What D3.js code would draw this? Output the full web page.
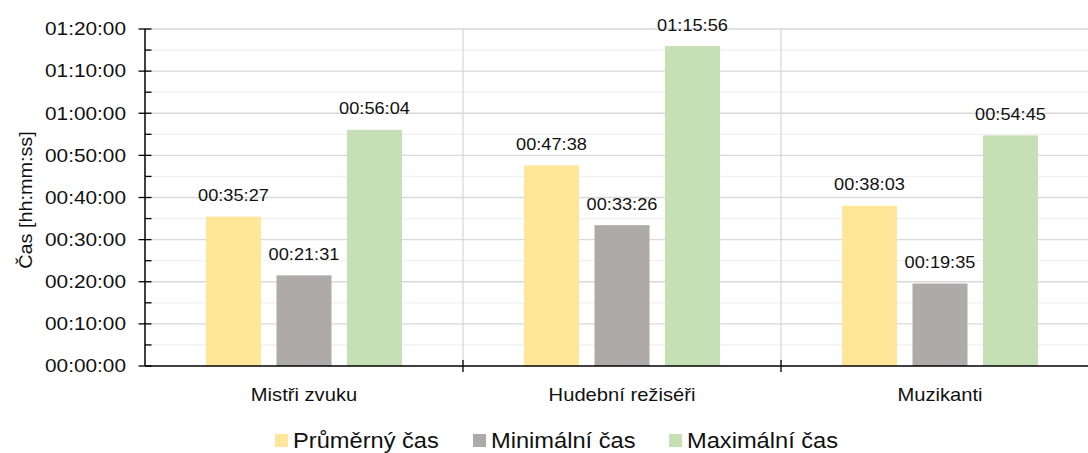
<!DOCTYPE html>
<html>
<head>
<meta charset="utf-8">
<script src="https://cdn.jsdelivr.net/npm/d3@7"></script>
<style>
  html, body { margin: 0; padding: 0; background: #fff; }
  svg { display: block; font-family: "Liberation Sans", Arial, sans-serif; }
</style>
</head>
<body>
<svg id="chart" width="1088" height="453"></svg>
<script>
// Categories and series (times as hh:mm:ss strings, converted to seconds)
const categories = ["Mistři zvuku", "Hudební režiséři", "Muzikanti"];
const seriesNames = ["Průměrný čas", "Minimální čas", "Maximální čas"];
const seriesColors = ["#FFE699", "#AEAAAA", "#C5E0B4"];
const averageTimes = ["00:35:27", "00:47:38", "00:38:03"];
const minimumTimes = ["00:21:31", "00:33:26", "00:19:35"];
const maximumTimes = ["00:56:04", "01:15:56", "00:54:45"];
const yTickLabels = ["00:00:00", "00:10:00", "00:20:00", "00:30:00", "00:40:00",
                     "00:50:00", "01:00:00", "01:10:00", "01:20:00"];

const toSec = s => { const [h, m, x] = s.split(":").map(Number); return h * 3600 + m * 60 + x; };
const seriesValues = [averageTimes, minimumTimes, maximumTimes];

const svg = d3.select("#chart");
const plotLeft = 145, plotRight = 1099, plotTop = 29, plotBottom = 366;

const y = d3.scaleLinear().domain([0, toSec("01:20:00")]).range([plotBottom, plotTop]);
const x0 = d3.scaleBand().domain(categories).range([plotLeft, plotRight]).padding(0);
const x1 = d3.scaleBand().domain(d3.range(seriesNames.length))
  .range([0, x0.bandwidth()]).paddingInner(0.22).paddingOuter(0.865);

// horizontally widened text helper
function label(g, x, yPos, txt, size, sx, anchor) {
  return g.append("text")
    .attr("transform", `translate(${x},${yPos}) scale(${sx},1)`)
    .attr("text-anchor", anchor)
    .attr("font-size", size)
    .attr("fill", "#111")
    .text(txt);
}

// gridlines: minor every 5 min, major every 10 min
const minorTicks = d3.range(0, toSec("01:20:00") + 1, 300);
svg.append("g").selectAll("line").data(minorTicks.filter(t => t % 600 !== 0)).join("line")
  .attr("x1", plotLeft).attr("x2", 1088).attr("y1", d => y(d)).attr("y2", d => y(d))
  .attr("stroke", "#F0F0F0").attr("stroke-width", 1.3);
svg.append("g").selectAll("line").data(minorTicks.filter(t => t % 600 === 0 && t > 0)).join("line")
  .attr("x1", plotLeft).attr("x2", 1088).attr("y1", d => y(d)).attr("y2", d => y(d))
  .attr("stroke", "#D9D9D9").attr("stroke-width", 1.3);

// vertical category separators
svg.append("g").selectAll("line").data(categories.slice(1)).join("line")
  .attr("x1", d => x0(d)).attr("x2", d => x0(d)).attr("y1", plotTop).attr("y2", plotBottom)
  .attr("stroke", "#D9D9D9").attr("stroke-width", 1.3);

// bars with value labels
const groups = svg.append("g").selectAll("g").data(categories).join("g")
  .attr("transform", d => `translate(${x0(d)},0)`);
groups.each(function (cat, ci) {
  const g = d3.select(this);
  seriesValues.forEach((vals, si) => {
    const v = toSec(vals[ci]);
    g.append("rect")
      .attr("x", x1(si)).attr("width", x1.bandwidth())
      .attr("y", y(v)).attr("height", y(0) - y(v))
      .attr("fill", seriesColors[si]);
    label(g, x1(si) + x1.bandwidth() / 2, y(v) - 15.5, vals[ci], 17, 1.07, "middle");
  });
});

// y axis
const ya = svg.append("g");
ya.append("line").attr("x1", plotLeft).attr("x2", plotLeft).attr("y1", plotTop).attr("y2", plotBottom)
  .attr("stroke", "#000").attr("stroke-width", 1.5);
ya.selectAll("line.major").data(minorTicks.filter(t => t % 600 === 0)).join("line")
  .attr("class", "major").attr("x1", plotLeft - 6.5).attr("x2", plotLeft + 6.5)
  .attr("y1", d => y(d)).attr("y2", d => y(d)).attr("stroke", "#000").attr("stroke-width", 1.3);
ya.selectAll("line.minor").data(minorTicks.filter(t => t % 600 !== 0)).join("line")
  .attr("class", "minor").attr("x1", plotLeft).attr("x2", plotLeft + 6.5)
  .attr("y1", d => y(d)).attr("y2", d => y(d)).attr("stroke", "#000").attr("stroke-width", 1.3);
yTickLabels.forEach(t => label(ya, 126, y(toSec(t)) + 6.3, t, 17.5, 1.19, "end"));

// x axis
const xa = svg.append("g");
xa.append("line").attr("x1", plotLeft).attr("x2", 1088).attr("y1", plotBottom).attr("y2", plotBottom)
  .attr("stroke", "#000").attr("stroke-width", 1.5);
xa.selectAll("line.tick").data(categories.slice(1)).join("line")
  .attr("class", "tick").attr("x1", d => x0(d)).attr("x2", d => x0(d))
  .attr("y1", plotBottom - 6).attr("y2", plotBottom + 6).attr("stroke", "#000").attr("stroke-width", 1.3);
categories.forEach(c => label(xa, x0(c) + x0.bandwidth() / 2, 401, c, 18, 1.12, "middle"));

// y axis title
svg.append("text")
  .attr("transform", "translate(32,200) rotate(-90) scale(1.1,1)")
  .attr("text-anchor", "middle").attr("font-size", 18).attr("fill", "#111")
  .text("Čas [hh:mm:ss]");

// legend
const legendX = [275, 473, 669];
const lg = svg.append("g");
seriesNames.forEach((n, i) => {
  lg.append("rect").attr("x", legendX[i]).attr("y", 434).attr("width", 13).attr("height", 13)
    .attr("fill", seriesColors[i]);
  label(lg, legendX[i] + 18, 448, n, 21.5, 1.1, "start");
});
</script>
</body>
</html>
